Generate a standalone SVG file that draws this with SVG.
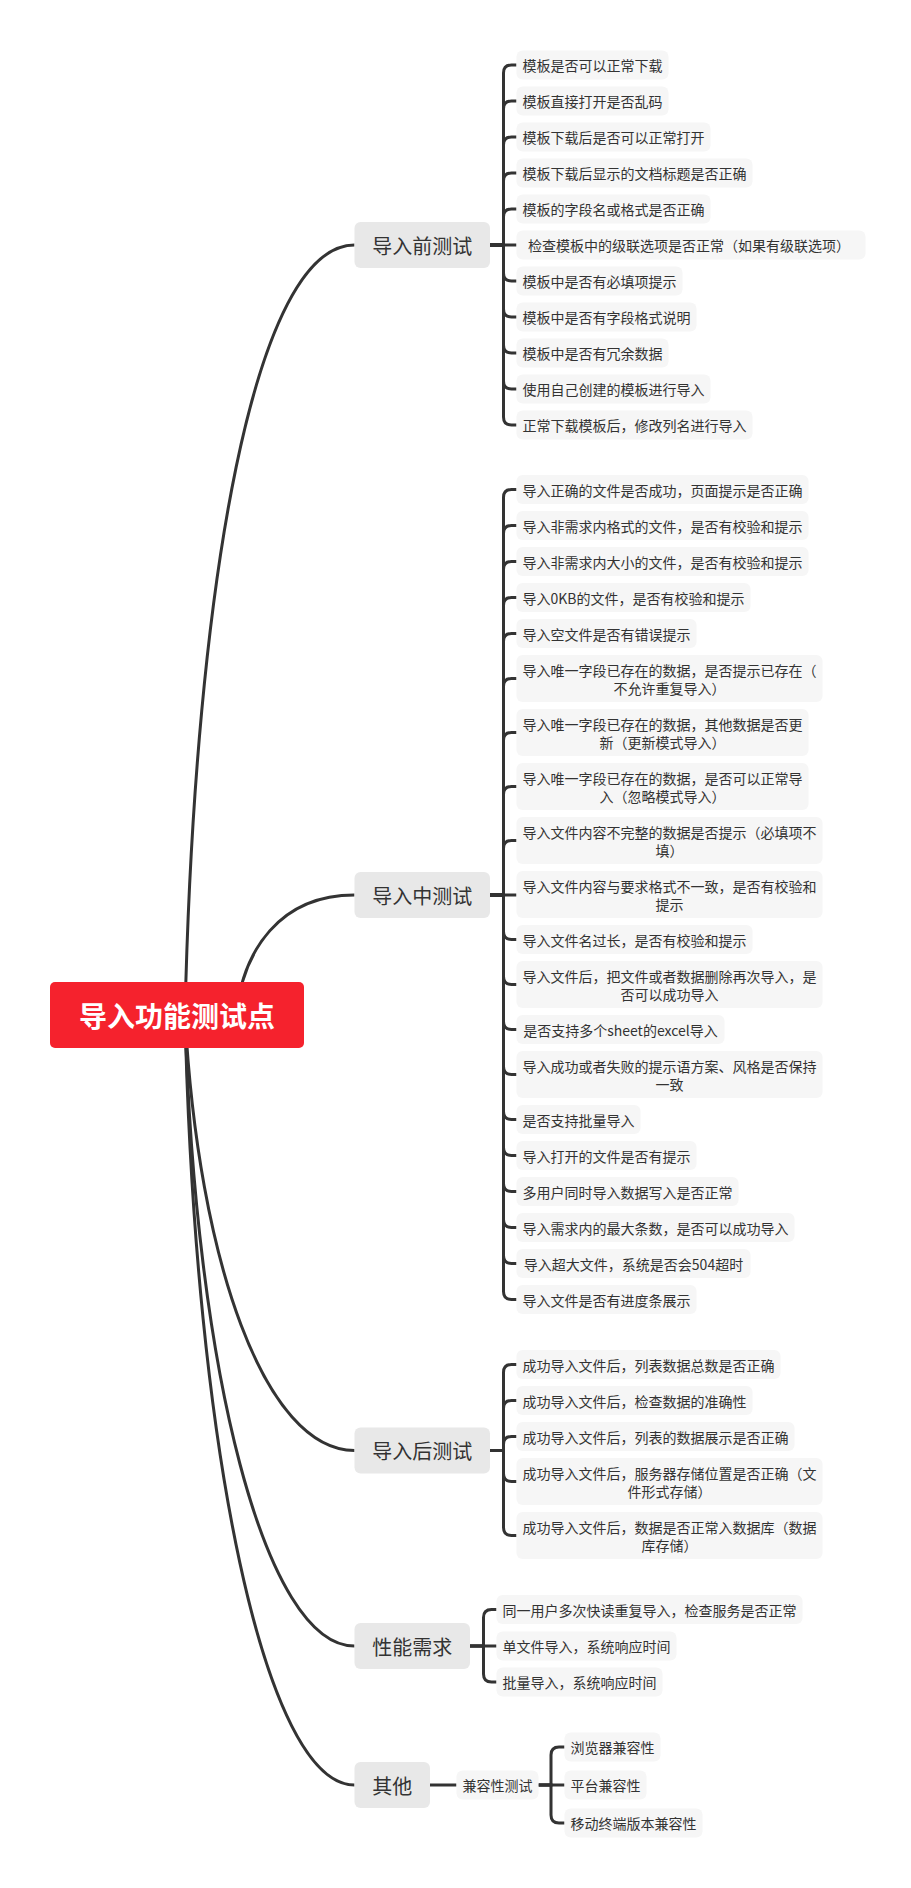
<svg xmlns="http://www.w3.org/2000/svg" width="911" height="1888" viewBox="0 0 911 1888">
<style>
text{font-family:"Noto Sans CJK SC","Microsoft YaHei",sans-serif;dominant-baseline:central;fill:#333}
.t{font-size:14px;text-anchor:middle}
.ts{font-size:14px}
.tp{font-size:20px;text-anchor:middle}
.box{fill:#f6f6f6}
.topic{fill:#e8e8e8}
.ln{fill:none;stroke:#333;stroke-width:3}
.root{fill:#f5222d}
.rt{font-size:28px;font-weight:bold;fill:#fff;text-anchor:middle}
</style>
<rect width="911" height="1888" fill="#fff"/>
<g id="connectors">
<path class="ln" d="M185 1015 C195 580 255 245 354.5 245"/>
<path class="ln" d="M236 1015 C243 950 280 895 354.5 895"/>
<path class="ln" d="M185 1015 C198 1261 265 1450.5 354.5 1450.5"/>
<path class="ln" d="M185 1015 C195 1371 265 1646 354.5 1646"/>
<path class="ln" d="M185 1015 C195 1450 265 1785 354.5 1785"/>
<!-- A -->
<path class="ln" d="M490 245 H503.5 V73 Q503.5 65 511.5 65 H516.5"/>
<path class="ln" d="M490 245 H503.5 V109 Q503.5 101 511.5 101 H516.5"/>
<path class="ln" d="M490 245 H503.5 V145 Q503.5 137 511.5 137 H516.5"/>
<path class="ln" d="M490 245 H503.5 V181 Q503.5 173 511.5 173 H516.5"/>
<path class="ln" d="M490 245 H503.5 V217 Q503.5 209 511.5 209 H516.5"/>
<path class="ln" d="M490 245 H516.5"/>
<path class="ln" d="M490 245 H503.5 V273 Q503.5 281 511.5 281 H516.5"/>
<path class="ln" d="M490 245 H503.5 V309 Q503.5 317 511.5 317 H516.5"/>
<path class="ln" d="M490 245 H503.5 V345 Q503.5 353 511.5 353 H516.5"/>
<path class="ln" d="M490 245 H503.5 V381 Q503.5 389 511.5 389 H516.5"/>
<path class="ln" d="M490 245 H503.5 V417 Q503.5 425 511.5 425 H516.5"/>
<!-- B -->
<path class="ln" d="M490 895 H503.5 V497.5 Q503.5 489.5 511.5 489.5 H516.5"/>
<path class="ln" d="M490 895 H503.5 V533.5 Q503.5 525.5 511.5 525.5 H516.5"/>
<path class="ln" d="M490 895 H503.5 V569.5 Q503.5 561.5 511.5 561.5 H516.5"/>
<path class="ln" d="M490 895 H503.5 V605.5 Q503.5 597.5 511.5 597.5 H516.5"/>
<path class="ln" d="M490 895 H503.5 V641.5 Q503.5 633.5 511.5 633.5 H516.5"/>
<path class="ln" d="M490 895 H503.5 V686.5 Q503.5 678.5 511.5 678.5 H516.5"/>
<path class="ln" d="M490 895 H503.5 V740.5 Q503.5 732.5 511.5 732.5 H516.5"/>
<path class="ln" d="M490 895 H503.5 V794.5 Q503.5 786.5 511.5 786.5 H516.5"/>
<path class="ln" d="M490 895 H503.5 V848.5 Q503.5 840.5 511.5 840.5 H516.5"/>
<path class="ln" d="M490 895 H516.5"/>
<path class="ln" d="M490 895 H503.5 V931.5 Q503.5 939.5 511.5 939.5 H516.5"/>
<path class="ln" d="M490 895 H503.5 V976.5 Q503.5 984.5 511.5 984.5 H516.5"/>
<path class="ln" d="M490 895 H503.5 V1021.5 Q503.5 1029.5 511.5 1029.5 H516.5"/>
<path class="ln" d="M490 895 H503.5 V1066.5 Q503.5 1074.5 511.5 1074.5 H516.5"/>
<path class="ln" d="M490 895 H503.5 V1111.5 Q503.5 1119.5 511.5 1119.5 H516.5"/>
<path class="ln" d="M490 895 H503.5 V1147.5 Q503.5 1155.5 511.5 1155.5 H516.5"/>
<path class="ln" d="M490 895 H503.5 V1183.5 Q503.5 1191.5 511.5 1191.5 H516.5"/>
<path class="ln" d="M490 895 H503.5 V1219.5 Q503.5 1227.5 511.5 1227.5 H516.5"/>
<path class="ln" d="M490 895 H503.5 V1255.5 Q503.5 1263.5 511.5 1263.5 H516.5"/>
<path class="ln" d="M490 895 H503.5 V1291.5 Q503.5 1299.5 511.5 1299.5 H516.5"/>
<!-- C -->
<path class="ln" d="M490 1450.5 H503.5 V1372.5 Q503.5 1364.5 511.5 1364.5 H516.5"/>
<path class="ln" d="M490 1450.5 H503.5 V1408.5 Q503.5 1400.5 511.5 1400.5 H516.5"/>
<path class="ln" d="M490 1450.5 H503.5 V1444.5 Q503.5 1436.5 511.5 1436.5 H516.5"/>
<path class="ln" d="M490 1450.5 H503.5 V1473.5 Q503.5 1481.5 511.5 1481.5 H516.5"/>
<path class="ln" d="M490 1450.5 H503.5 V1527.5 Q503.5 1535.5 511.5 1535.5 H516.5"/>
<!-- D -->
<path class="ln" d="M470 1646 H483.5 V1617.5 Q483.5 1609.5 491.5 1609.5 H496.5"/>
<path class="ln" d="M470 1646 H496.5"/>
<path class="ln" d="M470 1646 H483.5 V1674 Q483.5 1682 491.5 1682 H496.5"/>
<!-- E -->
<path class="ln" d="M430 1785 H456.5"/>
<path class="ln" d="M538.5 1785 H551 V1755 Q551 1747 559 1747 H564.5"/>
<path class="ln" d="M538.5 1785 H564.5"/>
<path class="ln" d="M538.5 1785 H551 V1815 Q551 1823 559 1823 H564.5"/>
</g>
<g id="root"><rect class="root" x="50" y="982" width="254" height="66" rx="5"/><text class="rt" x="177" y="1015">导入功能测试点</text></g>
<g id="topic-before"><rect class="topic" x="354.5" y="222" width="135.5" height="46" rx="6"/><text class="tp" x="422.3" y="245">导入前测试</text></g>
<g id="a1"><rect class="box" x="516.5" y="50.5" width="152" height="29" rx="6"/><text class="t" x="592.5" y="65">模板是否可以正常下载</text></g>
<g id="a2"><rect class="box" x="516.5" y="86.5" width="152" height="29" rx="6"/><text class="t" x="592.5" y="101">模板直接打开是否乱码</text></g>
<g id="a3"><rect class="box" x="516.5" y="122.5" width="194" height="29" rx="6"/><text class="t" x="613.5" y="137">模板下载后是否可以正常打开</text></g>
<g id="a4"><rect class="box" x="516.5" y="158.5" width="236" height="29" rx="6"/><text class="t" x="634.5" y="173">模板下载后显示的文档标题是否正确</text></g>
<g id="a5"><rect class="box" x="516.5" y="194.5" width="194" height="29" rx="6"/><text class="t" x="613.5" y="209">模板的字段名或格式是否正确</text></g>
<g id="a6"><rect class="box" x="516.5" y="230.5" width="349" height="29" rx="6"/><text class="ts" x="528" y="245">检查模板中的级联选项是否正常（如果有级联选项）</text></g>
<g id="a7"><rect class="box" x="516.5" y="266.5" width="166" height="29" rx="6"/><text class="t" x="599.5" y="281">模板中是否有必填项提示</text></g>
<g id="a8"><rect class="box" x="516.5" y="302.5" width="180" height="29" rx="6"/><text class="t" x="606.5" y="317">模板中是否有字段格式说明</text></g>
<g id="a9"><rect class="box" x="516.5" y="338.5" width="152" height="29" rx="6"/><text class="t" x="592.5" y="353">模板中是否有冗余数据</text></g>
<g id="a10"><rect class="box" x="516.5" y="374.5" width="194" height="29" rx="6"/><text class="t" x="613.5" y="389">使用自己创建的模板进行导入</text></g>
<g id="a11"><rect class="box" x="516.5" y="410.5" width="236" height="29" rx="6"/><text class="t" x="634.5" y="425">正常下载模板后，修改列名进行导入</text></g>

<g id="topic-during"><rect class="topic" x="354.5" y="872" width="135.5" height="46" rx="6"/><text class="tp" x="422.3" y="895">导入中测试</text></g>
<g id="b1"><rect class="box" x="516.5" y="475" width="292" height="29" rx="6"/><text class="t" x="662.5" y="489.5">导入正确的文件是否成功，页面提示是否正确</text></g>
<g id="b2"><rect class="box" x="516.5" y="511" width="292" height="29" rx="6"/><text class="t" x="662.5" y="525.5">导入非需求内格式的文件，是否有校验和提示</text></g>
<g id="b3"><rect class="box" x="516.5" y="547" width="292" height="29" rx="6"/><text class="t" x="662.5" y="561.5">导入非需求内大小的文件，是否有校验和提示</text></g>
<g id="b4"><rect class="box" x="516.5" y="583" width="234" height="29" rx="6"/><text class="t" x="633.5" y="597.5">导入0KB的文件，是否有校验和提示</text></g>
<g id="b5"><rect class="box" x="516.5" y="619" width="180" height="29" rx="6"/><text class="t" x="606.5" y="633.5">导入空文件是否有错误提示</text></g>
<g id="b6"><rect class="box" x="516.5" y="655" width="306" height="47" rx="6"/><text class="t" x="669.5" y="669.5">导入唯一字段已存在的数据，是否提示已存在（</text><text class="t" x="669.5" y="688">不允许重复导入）</text></g>
<g id="b7"><rect class="box" x="516.5" y="709" width="292" height="47" rx="6"/><text class="t" x="662.5" y="723.5">导入唯一字段已存在的数据，其他数据是否更</text><text class="t" x="662.5" y="742">新（更新模式导入）</text></g>
<g id="b8"><rect class="box" x="516.5" y="763" width="292" height="47" rx="6"/><text class="t" x="662.5" y="777.5">导入唯一字段已存在的数据，是否可以正常导</text><text class="t" x="662.5" y="796">入（忽略模式导入）</text></g>
<g id="b9"><rect class="box" x="516.5" y="817" width="306" height="47" rx="6"/><text class="t" x="669.5" y="831.5">导入文件内容不完整的数据是否提示（必填项不</text><text class="t" x="669.5" y="850">填）</text></g>
<g id="b10"><rect class="box" x="516.5" y="871" width="306" height="47" rx="6"/><text class="t" x="669.5" y="885.5">导入文件内容与要求格式不一致，是否有校验和</text><text class="t" x="669.5" y="904">提示</text></g>
<g id="b11"><rect class="box" x="516.5" y="925" width="236" height="29" rx="6"/><text class="t" x="634.5" y="939.5">导入文件名过长，是否有校验和提示</text></g>
<g id="b12"><rect class="box" x="516.5" y="961" width="306" height="47" rx="6"/><text class="t" x="669.5" y="975.5">导入文件后，把文件或者数据删除再次导入，是</text><text class="t" x="669.5" y="994">否可以成功导入</text></g>
<g id="b13"><rect class="box" x="516.5" y="1015" width="208" height="29" rx="6"/><text class="t" x="620.5" y="1029.5">是否支持多个sheet的excel导入</text></g>
<g id="b14"><rect class="box" x="516.5" y="1051" width="306" height="47" rx="6"/><text class="t" x="669.5" y="1065.5">导入成功或者失败的提示语方案、风格是否保持</text><text class="t" x="669.5" y="1084">一致</text></g>
<g id="b15"><rect class="box" x="516.5" y="1105" width="124" height="29" rx="6"/><text class="t" x="578.5" y="1119.5">是否支持批量导入</text></g>
<g id="b16"><rect class="box" x="516.5" y="1141" width="180" height="29" rx="6"/><text class="t" x="606.5" y="1155.5">导入打开的文件是否有提示</text></g>
<g id="b17"><rect class="box" x="516.5" y="1177" width="222" height="29" rx="6"/><text class="t" x="627.5" y="1191.5">多用户同时导入数据写入是否正常</text></g>
<g id="b18"><rect class="box" x="516.5" y="1213" width="278" height="29" rx="6"/><text class="t" x="655.5" y="1227.5">导入需求内的最大条数，是否可以成功导入</text></g>
<g id="b19"><rect class="box" x="516.5" y="1249" width="234" height="29" rx="6"/><text class="t" x="633.5" y="1263.5">导入超大文件，系统是否会504超时</text></g>
<g id="b20"><rect class="box" x="516.5" y="1285" width="180" height="29" rx="6"/><text class="t" x="606.5" y="1299.5">导入文件是否有进度条展示</text></g>

<g id="topic-after"><rect class="topic" x="354.5" y="1427.5" width="135.5" height="46" rx="6"/><text class="tp" x="422.3" y="1450.5">导入后测试</text></g>
<g id="c1"><rect class="box" x="516.5" y="1350" width="264" height="29" rx="6"/><text class="t" x="648.5" y="1364.5">成功导入文件后，列表数据总数是否正确</text></g>
<g id="c2"><rect class="box" x="516.5" y="1386" width="236" height="29" rx="6"/><text class="t" x="634.5" y="1400.5">成功导入文件后，检查数据的准确性</text></g>
<g id="c3"><rect class="box" x="516.5" y="1422" width="278" height="29" rx="6"/><text class="t" x="655.5" y="1436.5">成功导入文件后，列表的数据展示是否正确</text></g>
<g id="c4"><rect class="box" x="516.5" y="1458" width="306" height="47" rx="6"/><text class="t" x="669.5" y="1472.5">成功导入文件后，服务器存储位置是否正确（文</text><text class="t" x="669.5" y="1491">件形式存储）</text></g>
<g id="c5"><rect class="box" x="516.5" y="1512" width="306" height="47" rx="6"/><text class="t" x="669.5" y="1526.5">成功导入文件后，数据是否正常入数据库（数据</text><text class="t" x="669.5" y="1545">库存储）</text></g>

<g id="topic-perf"><rect class="topic" x="354.5" y="1623" width="115.5" height="46" rx="6"/><text class="tp" x="412.3" y="1646">性能需求</text></g>
<g id="d1"><rect class="box" x="496.5" y="1595" width="306" height="29" rx="6"/><text class="t" x="649.5" y="1609.5">同一用户多次快读重复导入，检查服务是否正常</text></g>
<g id="d2"><rect class="box" x="496.5" y="1631.5" width="180" height="29" rx="6"/><text class="t" x="586.5" y="1646">单文件导入，系统响应时间</text></g>
<g id="d3"><rect class="box" x="496.5" y="1667.5" width="166" height="29" rx="6"/><text class="t" x="579.5" y="1682">批量导入，系统响应时间</text></g>

<g id="topic-other"><rect class="topic" x="354.5" y="1762" width="75.5" height="46" rx="6"/><text class="tp" x="392.3" y="1785">其他</text></g>
<g id="e0"><rect class="box" x="456.5" y="1770.5" width="82" height="29" rx="6"/><text class="t" x="497.5" y="1785">兼容性测试</text></g>
<g id="e1"><rect class="box" x="564.5" y="1732.5" width="96" height="29" rx="6"/><text class="t" x="612.5" y="1747">浏览器兼容性</text></g>
<g id="e2"><rect class="box" x="564.5" y="1770.5" width="82" height="29" rx="6"/><text class="t" x="605.5" y="1785">平台兼容性</text></g>
<g id="e3"><rect class="box" x="564.5" y="1808.5" width="138" height="29" rx="6"/><text class="t" x="633.5" y="1823">移动终端版本兼容性</text></g>
</svg>
